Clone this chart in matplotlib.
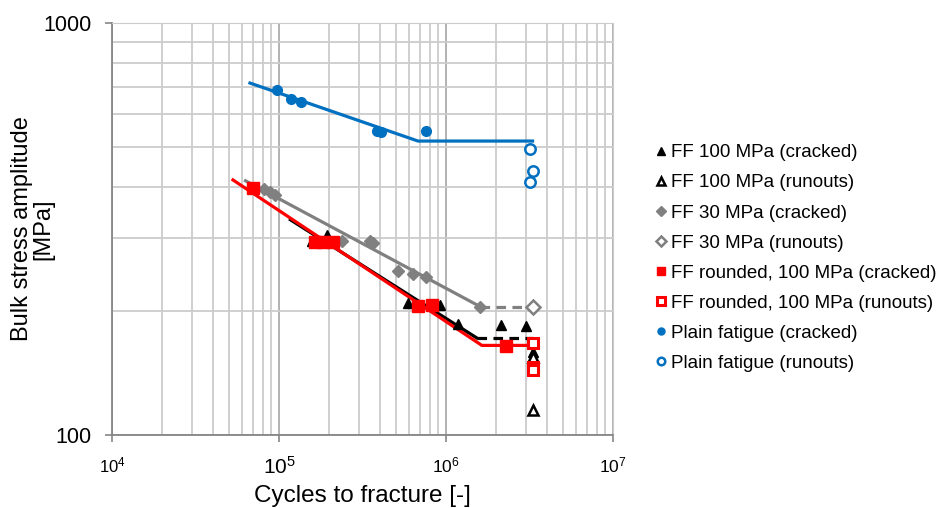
import matplotlib
matplotlib.use("Agg")
import matplotlib.pyplot as plt
from matplotlib.ticker import LogLocator, NullFormatter, FixedLocator

plt.rcParams['font.family'] = ['Liberation Sans', 'DejaVu Sans']
plt.rcParams['mathtext.default'] = 'regular'

# FF 100 MPa
ff100_n = [1.58e5, 1.94e5, 5.9e5, 9.2e5, 1.18e6, 2.14e6, 3.0e6, 3.3e6]
ff100_s = [295, 306, 209, 207, 186, 185, 184, 159]
ff100_run_n = [3.3e6, 3.3e6]
ff100_run_s = [155, 115]

# FF 30 MPa
ff30_n = [8.1e4, 8.8e4, 9.5e4, 2.38e5, 3.5e5, 3.65e5, 5.16e5, 6.35e5, 7.6e5, 1.6e6]
ff30_s = [396, 389, 382, 296, 295, 292, 250, 246, 242, 205]
ff30_run_n = [3.32e6]
ff30_run_s = [205]

# FF rounded, 100 MPa
ffr_n = [7.0e4, 1.64e5, 1.83e5, 2.1e5, 6.8e5, 8.2e5, 2.29e6]
ffr_s = [398, 294, 294, 294, 206, 207, 164]
ffr_run_n = [3.3e6, 3.3e6, 3.3e6]
ffr_run_s = [167, 146, 144]

# plain fatigue
pf_n = [9.7e4, 1.18e5, 1.35e5, 3.86e5, 4.08e5, 7.56e5]
pf_s = [688, 654, 644, 547, 544, 547]
pf_run_n = [3.2e6, 3.3e6, 3.2e6]
pf_run_s = [494, 437, 411]

# fitted S-N curves (knee + endurance limit)
pf_fit_n = [6.7e4, 6.8e5, 3.3e6]
pf_fit_s = [715, 517, 517]
ff30_fit_n = [6.3e4, 1.6e6]
ff30_fit_s = [414, 205]
ff30_lim_n = [1.6e6, 3.3e6]
ff30_lim_s = [205, 205]
ff100_fit_n = [1.17e5, 1.53e6]
ff100_fit_s = [333, 172]
ff100_lim_n = [1.53e6, 3.3e6]
ff100_lim_s = [172, 172]
ffr_fit_n = [5.3e4, 1.64e6, 3.3e6]
ffr_fit_s = [416, 165, 165]

blue = '#0070C0'
red = '#FF0000'
grey = '#808080'

fig = plt.figure(figsize=(9.43, 5.08), dpi=100)
ax = fig.add_axes([0.1188, 0.1437, 0.5312, 0.811])

lw = 2.3
ax.plot(pf_fit_n, pf_fit_s, color=blue, lw=lw)
ax.plot(ff30_fit_n, ff30_fit_s, color=grey, lw=lw)
ax.plot(ff30_lim_n, ff30_lim_s, color=grey, lw=lw, ls=(0, (3, 2)))
ax.plot(ff100_fit_n, ff100_fit_s, color='black', lw=lw)
ax.plot(ff100_lim_n, ff100_lim_s, color='black', lw=lw, ls=(0, (3, 2)))
ax.plot(ffr_fit_n, ffr_fit_s, color=red, lw=lw)

ms = 7.5
ax.plot(ff100_n, ff100_s, '^', color='black', ms=ms, ls='none',
        label='FF 100 MPa (cracked)')
ax.plot(ff100_run_n, ff100_run_s, '^', mfc='white', mec='black', mew=1.8,
        ms=ms, ls='none', label='FF 100 MPa (runouts)')
ax.plot(ff30_n, ff30_s, 'D', color=grey, ms=6.5, ls='none',
        label='FF 30 MPa (cracked)')
ax.plot(ff30_run_n, ff30_run_s, 'D', mfc='white', mec=grey, mew=1.8,
        ms=7.5, ls='none', label='FF 30 MPa (runouts)')
ax.plot(ffr_n, ffr_s, 's', color=red, ms=8, ls='none',
        label='FF rounded, 100 MPa (cracked)')
ax.plot(ffr_run_n, ffr_run_s, 's', mfc='white', mec=red, mew=2.2,
        ms=7.5, ls='none', label='FF rounded, 100 MPa (runouts)')
ax.plot(pf_n, pf_s, 'o', color=blue, ms=7, ls='none',
        label='Plain fatigue (cracked)')
ax.plot(pf_run_n, pf_run_s, 'o', mfc='white', mec=blue, mew=1.8,
        ms=7.5, ls='none', label='Plain fatigue (runouts)')

ax.set_xscale('log')
ax.set_yscale('log')
ax.set_xlim(1e4, 1e7)
ax.set_ylim(100, 1000)

ax.xaxis.set_major_locator(FixedLocator([1e4, 1e5, 1e6, 1e7]))
ax.xaxis.set_minor_locator(LogLocator(base=10, subs=range(2, 10)))
ax.xaxis.set_minor_formatter(NullFormatter())
ax.yaxis.set_major_locator(FixedLocator([100, 1000]))
ax.yaxis.set_minor_locator(LogLocator(base=10, subs=range(2, 10)))
ax.yaxis.set_minor_formatter(NullFormatter())
ax.set_yticklabels(['100', '1000'])
ax.set_xticklabels(['$10^4$', '$10^5$', '$10^6$', '$10^7$'])
for lab, size in zip(ax.get_xticklabels(), [12, 15, 12.5, 12.5]):
    lab.set_fontsize(size)
for lab in ax.get_yticklabels():
    lab.set_fontsize(15.5)

ax.grid(which='major', color='#a6a6a6', lw=1.2)
ax.grid(which='minor', color='#cccccc', lw=1.3)
ax.set_axisbelow(True)
for side in ['left', 'bottom']:
    ax.spines[side].set_color('#868686')
    ax.spines[side].set_linewidth(1.3)
for side in ['top', 'right']:
    ax.spines[side].set_color('#cccccc')
ax.tick_params(which='major', length=5, width=1.2, color='#868686', pad=10)
ax.tick_params(which='minor', length=0)

ax.set_xlabel('Cycles to fracture [-]', fontsize=17.5, labelpad=5)
ax.set_ylabel('Bulk stress amplitude\n[MPa]', fontsize=17, va='center',
              linespacing=0.95)
ax.yaxis.set_label_coords(-0.158, 0.5)

fig.legend(loc='center left', bbox_to_anchor=(0.685, 0.492), frameon=False,
           fontsize=13.5, handlelength=0.6, handletextpad=0.25,
           labelspacing=0.69, markerscale=0.72, borderpad=0)

fig.savefig('out.png', dpi=100)
